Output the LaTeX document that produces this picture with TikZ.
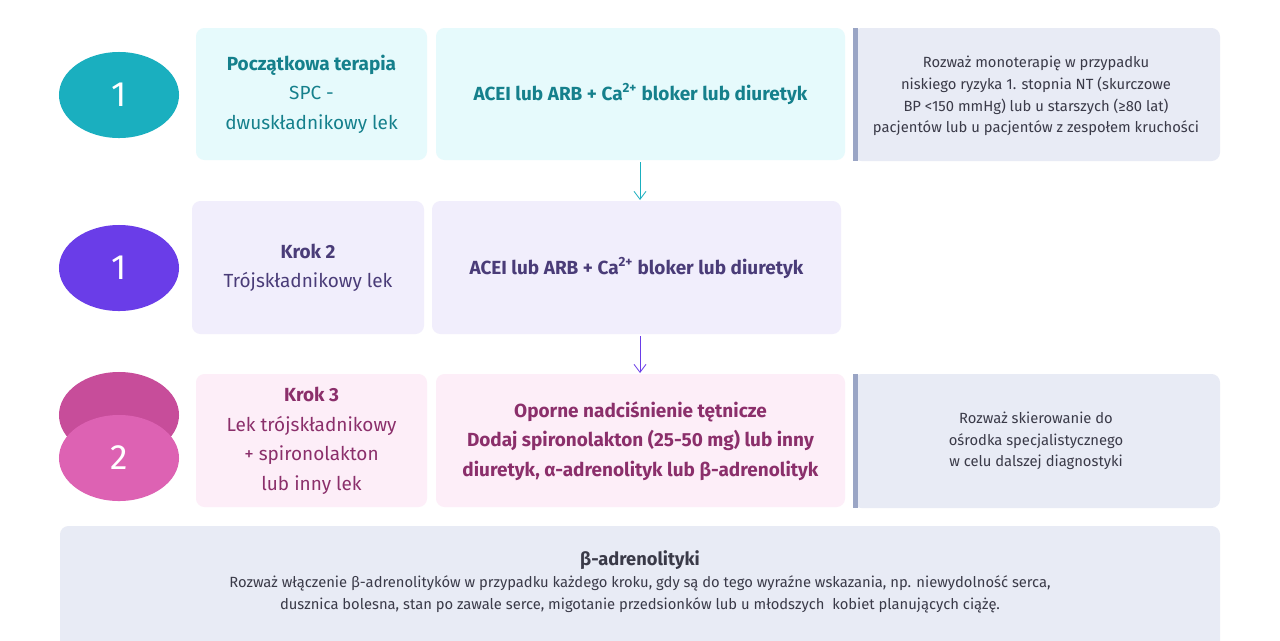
\documentclass[tikz,border=0pt]{standalone}
\usepackage{fontspec}
\setmainfont{Fira Sans}
\usetikzlibrary{arrows.meta,positioning,shapes.geometric}
\definecolor{TealDot}{HTML}{1AAFBF}
\definecolor{TealText}{HTML}{15808C}
\definecolor{TealFill}{HTML}{E6FAFC}
\definecolor{VioDot}{HTML}{6A3DE8}
\definecolor{VioText}{HTML}{4A3C78}
\definecolor{VioFill}{HTML}{F1EEFC}
\definecolor{PinkDark}{HTML}{C74D9A}
\definecolor{PinkDot}{HTML}{DD62B3}
\definecolor{PinkText}{HTML}{8B2F6B}
\definecolor{PinkFill}{HTML}{FDEEF8}
\definecolor{NoteFill}{HTML}{E8EBF5}
\definecolor{NoteBar}{HTML}{9AA5C5}
\definecolor{NoteText}{HTML}{3A3A48}

\begin{document}
\begin{tikzpicture}[x=0.025cm,y=-0.025cm]
\tikzset{
  dot/.style={ellipse, minimum width=3cm, minimum height=2.15cm, text=white, font=\fontsize{25}{25}\selectfont, inner sep=0pt},
  stepbox/.style={rounded corners=6pt, align=center, font=\fontsize{13.5}{21}\selectfont},
  note/.style={rounded corners=6pt, fill=NoteFill, align=center, text=NoteText, font=\fontsize{10.5}{15.5}\selectfont},
  flow/.style={-{Straight Barb[length=2mm,width=3mm]}, semithick}
}
\useasboundingbox (0,0) rectangle (1280,640);
\clip (0,0) rectangle (1280,640);
\fill[white] (0,0) rectangle (1280,640);
% row 1
\node[dot, fill=TealDot] (d1) at (119,95) {1};
\fill[stepbox, fill=TealFill] (196,28) rectangle (427,160);
\node[stepbox, text=TealText] (a1) at (311.5,94) {\textbf{Początkowa terapia}\\SPC -\\dwuskładnikowy lek};
\fill[stepbox, fill=TealFill] (436,28) rectangle (845,160);
\node[stepbox, text=TealText] (b1) at (640.5,94) {\textbf{ACEI lub ARB + Ca\textsuperscript{2+} bloker lub diuretyk}};
\fill[note] (853,28) rectangle (1220,161);
\fill[NoteBar] (853,28) rectangle (858,161);
\node[note, fill=none] (n1) at (1036,96) {Rozważ monoterapię w przypadku\\niskiego ryzyka 1. stopnia NT (skurczowe\\BP <150 mmHg) lub u starszych (≥80 lat)\\pacjentów lub u pacjentów z zespołem kruchości};
% row 2
\node[dot, fill=VioDot] (d2) at (119,268) {1};
\fill[stepbox, fill=VioFill] (192,201) rectangle (424,334);
\node[stepbox, text=VioText] (a2) at (308,268) {\textbf{Krok 2}\\Trójskładnikowy lek};
\fill[stepbox, fill=VioFill] (432,201) rectangle (841,334);
\node[stepbox, text=VioText] (b2) at (636.5,268) {\textbf{ACEI lub ARB + Ca\textsuperscript{2+} bloker lub diuretyk}};
% row 3
\node[dot, fill=PinkDark] (d3a) at (119,415) {};
\node[dot, fill=PinkDot] (d3) at (119,458) {2};
\fill[stepbox, fill=PinkFill] (196,374) rectangle (427,507);
\node[stepbox, text=PinkText] (a3) at (311.5,441) {\textbf{Krok 3}\\Lek trójskładnikowy\\+ spironolakton\\lub inny lek};
\fill[stepbox, fill=PinkFill] (436,374) rectangle (845,507);
\node[stepbox, text=PinkText] (b3) at (640.5,441) {\textbf{Oporne nadciśnienie tętnicze}\\\textbf{Dodaj spironolakton (25-50 mg) lub inny}\\\textbf{diuretyk, α-adrenolityk lub β-adrenolityk}};
\fill[note] (853,374) rectangle (1220,508);
\fill[NoteBar] (853,374) rectangle (858,508);
\node[note, fill=none] (n3) at (1036,441) {Rozważ skierowanie do\\ośrodka specjalistycznego\\w celu dalszej diagnostyki};
% arrows
\coordinate (t1) at (640,162); \coordinate (h1) at (640,200);
\coordinate (t2) at (640,336); \coordinate (h2) at (640,373);
\draw[flow, TealDot] (t1) -- (h1);
\draw[flow, VioDot] (t2) -- (h2);
% bottom
\fill[note] (60,526) rectangle (1220,660);
\node[note, fill=none] (bt) at (640,582) {{\fontsize{13}{18}\selectfont\textbf{β-adrenolityki}}\\Rozważ włączenie β-adrenolityków w przypadku każdego kroku, gdy są do tego wyraźne wskazania, np. niewydolność serca,\\dusznica bolesna, stan po zawale serce, migotanie przedsionków lub u młodszych\ \ kobiet planujących ciążę.};
\end{tikzpicture}
\end{document}
